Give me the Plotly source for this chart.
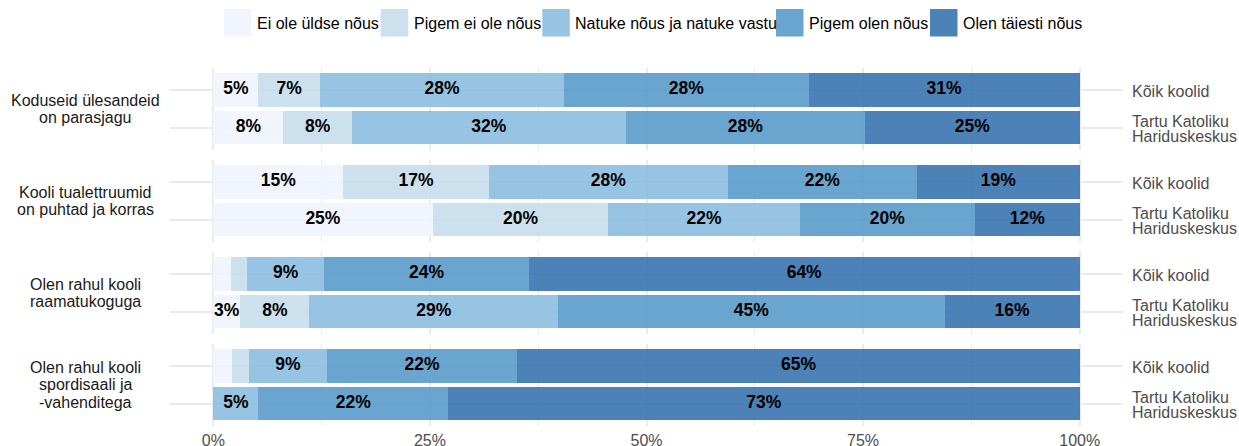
import plotly.graph_objects as go

# ---------------- data ----------------
levels = ["Ei ole üldse nõus", "Pigem ei ole nõus", "Natuke nõus ja natuke vastu",
          "Pigem olen nõus", "Olen täiesti nõus"]
questions = [["Koduseid ülesandeid", "on parasjagu"],
             ["Kooli tualettruumid", "on puhtad ja korras"],
             ["Olen rahul kooli", "raamatukoguga"],
             ["Olen rahul kooli", "spordisaali ja", "-vahenditega"]]
groups = [["Kõik koolid"], ["Tartu Katoliku", "Hariduskeskus"]]

q1_koik = [5.2, 7.1, 28.2, 28.2, 31.3]
q1_tartu = [8.1, 7.9, 31.6, 27.6, 24.8]
q2_koik = [15.0, 16.8, 27.6, 21.8, 18.8]
q2_tartu = [25.3, 20.3, 22.1, 20.2, 12.1]
q3_koik = [2.0, 1.9, 8.9, 23.6, 63.6]
q3_tartu = [3.1, 8.0, 28.7, 44.6, 15.6]
q4_koik = [2.1, 2.0, 9.0, 22.0, 64.9]
q4_tartu = [0.0, 0.0, 5.2, 21.9, 72.9]

x_ticks = [0, 25, 50, 75, 100]
x_minor = [12.5, 37.5, 62.5, 87.5]

# ---------------- style ----------------
colors = ["rgba(239,244,253,0.9)", "rgba(199,221,235,0.9)", "rgba(139,190,223,0.9)",
          "rgba(89,155,202,0.9)", "rgba(58,116,176,0.9)"]
FONT = "Liberation Sans, Arial, sans-serif"
GRID = "#ebebeb"
W, H = 1239, 446

def px_x(p):
    return p / W

def px_y(p):
    return 1 - p / H

panels = [(67.5, 150), (159.5, 242), (251.5, 334), (343.5, 426)]
x_dom = [px_x(170), px_x(1123)]

data_rows = [(q1_koik, q1_tartu), (q2_koik, q2_tartu),
             (q3_koik, q3_tartu), (q4_koik, q4_tartu)]

fig = go.Figure()
ypos = [1, 0]  # Kõik koolid on top

for r, (koik, tartu) in enumerate(data_rows):
    sfx = "" if r == 0 else str(r + 1)
    rows_vals = [koik, tartu]
    for k, lev in enumerate(levels):
        fig.add_trace(go.Bar(
            y=ypos, x=[koik[k], tartu[k]], orientation="h", width=0.9,
            marker=dict(color=colors[k], line=dict(width=0)),
            name=lev, showlegend=False, hoverinfo="skip",
            xaxis="x" + sfx, yaxis="y" + sfx))
    # labels
    tx, ty, tt = [], [], []
    for gi, vals in enumerate(rows_vals):
        cum = 0
        for v in vals:
            if v >= 2.5:
                tx.append(cum + v / 2)
                ty.append(ypos[gi])
                tt.append(f"{v:.0f}%")
            cum += v
    fig.add_trace(go.Scatter(
        x=tx, y=ty, text=tt, mode="text", showlegend=False, hoverinfo="skip",
        textfont=dict(family=FONT, size=17.5, color="black", weight="bold"),
        xaxis="x" + sfx, yaxis="y" + sfx))

    top, bot = panels[r]
    fig.layout["xaxis" + sfx] = dict(
        domain=x_dom, range=[-5, 105], anchor="y" + sfx, automargin=False,
        tickvals=x_ticks, ticktext=[f"{t}%" for t in x_ticks],
        showticklabels=(r == 3), ticks="", ticklabelstandoff=3,
        showgrid=True, gridcolor=GRID, gridwidth=1.9, zeroline=False,
        showline=False,
        minor=dict(tickvals=x_minor, showgrid=True, gridcolor=GRID, gridwidth=1, ticks=""),
        tickfont=dict(family=FONT, size=16, color="#4d4d4d"))
    fig.layout["yaxis" + sfx] = dict(
        domain=[px_y(bot), px_y(top)], range=[-0.6, 1.6], anchor="x" + sfx,
        automargin=False,
        side="right", tickvals=ypos, showticklabels=False, ticks="",
        showgrid=True, gridcolor=GRID, gridwidth=1.9,
        zeroline=False, showline=False)

    # facet label on the left (line spacing as in reference)
    lines = questions[r]
    mid = (top + bot) / 2
    for li, line in enumerate(lines):
        off = (li - (len(lines) - 1) / 2) * 17.3
        fig.add_annotation(
            x=px_x(85), y=px_y(mid + off), xref="paper", yref="paper",
            text=line, showarrow=False, xanchor="center", yanchor="middle",
            borderpad=0, font=dict(family=FONT, size=16, color="#1a1a1a"))

    # group labels on the right
    for gi, glines in enumerate(groups):
        for li, line in enumerate(glines):
            off = (li - (len(glines) - 1) / 2) * 15.5
            fig.add_annotation(
                x=px_x(1131), y=ypos[gi], xref="paper", yref="y" + sfx,
                yshift=-off - 1.5, text=line, showarrow=False,
                xanchor="left", yanchor="middle", borderpad=0,
                font=dict(family=FONT, size=16, color="#4d4d4d"))

# custom legend (large square keys)
leg_x = [224, 380.7, 542.3, 776, 930]
for k, lev in enumerate(levels):
    fig.add_shape(type="rect", xref="paper", yref="paper",
                  x0=px_x(leg_x[k]), x1=px_x(leg_x[k] + 27.5),
                  y0=px_y(36.5), y1=px_y(9), line=dict(width=0),
                  fillcolor=colors[k])
    fig.add_annotation(
        x=px_x(leg_x[k] + 32), y=px_y(23), xref="paper", yref="paper",
        text=lev, showarrow=False, xanchor="left", yanchor="middle",
        borderpad=0, font=dict(family=FONT, size=16, color="black"))

fig.update_layout(
    barmode="stack", width=W, height=H,
    margin=dict(l=0, r=0, t=0, b=0, autoexpand=False),
    paper_bgcolor="white", plot_bgcolor="white",
    showlegend=False, font=dict(family=FONT))

fig.write_html("out.html",
               config={"displayModeBar": False},
               post_script="document.body.style.margin='0';"
                           "document.body.style.overflow='hidden';")
